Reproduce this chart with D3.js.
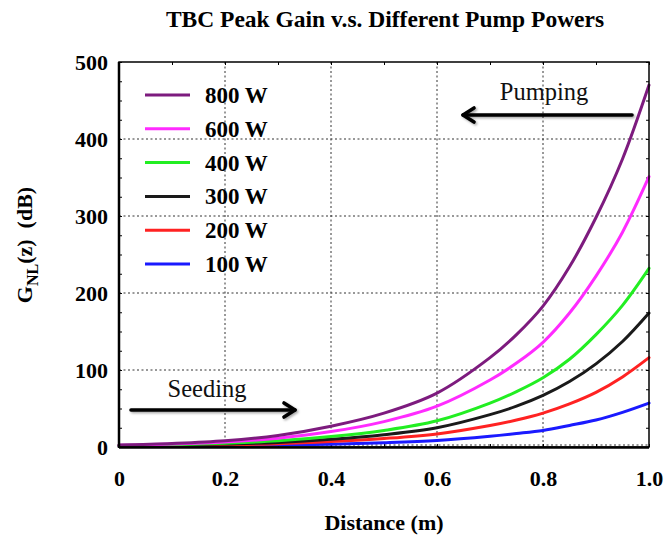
<!DOCTYPE html>
<html>
<head>
<meta charset="utf-8">
<script src="https://cdn.jsdelivr.net/npm/d3@7"></script>
<style>
  body { margin: 0; background: #fff; }
  svg text { font-family: "Liberation Serif", "Times New Roman", serif; }
</style>
</head>
<body>
<svg id="chart" width="664" height="538"></svg>
<script>
// Distance along the fibre (m)
const distance = [0, 0.1, 0.2, 0.3, 0.4, 0.5, 0.6, 0.7, 0.75, 0.8, 0.85, 0.9, 0.95, 1.0];

// Peak gain G_NL(z) in dB for each pump power
const gain800 = [2.5, 4.5, 8, 15, 27, 44, 70, 116, 146, 183, 234, 298, 374, 470];
const gain600 = [2.2, 3.8, 6.5, 11.5, 20, 33, 53, 87, 109, 136, 174, 222, 279, 351];
const gain400 = [2, 3, 5, 8, 13.5, 21.5, 34, 57, 72, 90, 114, 146, 184, 232];
const gain300 = [1.8, 2.5, 4, 6, 10, 16, 25, 42, 53, 67, 85, 108, 137, 174];
const gain200 = [1.6, 2.1, 3, 4.2, 7, 11, 17, 28, 35, 44, 56, 71, 91, 116];
const gain100 = [1.4, 1.6, 2, 2.5, 3.5, 5.5, 8.5, 14, 17.5, 21.5, 28, 35, 45, 57];

const seriesNames = ["800 W", "600 W", "400 W", "300 W", "200 W", "100 W"];
const seriesColors = ["#7d1b7e", "#ff2bff", "#22ee22", "#1a1a1a", "#ff2222", "#1a1aff"];
const seriesValues = [gain800, gain600, gain400, gain300, gain200, gain100];

const xTicks = [0, 0.2, 0.4, 0.6, 0.8, 1.0];
const xTickLabels = ["0", "0.2", "0.4", "0.6", "0.8", "1.0"];
const yTicks = [0, 100, 200, 300, 400, 500];

const svg = d3.select("#chart");
const plotLeft = 119, plotRight = 649, plotTop = 62, plotBottom = 447;

const x = d3.scaleLinear().domain([0, 1]).range([plotLeft, plotRight]);
const y = d3.scaleLinear().domain([0, 500]).range([plotBottom, plotTop]);

// Title
svg.append("text")
  .attr("x", 385).attr("y", 27)
  .attr("text-anchor", "middle")
  .attr("font-weight", "bold").attr("font-size", 23.5)
  .text("TBC Peak Gain v.s. Different Pump Powers");

// Dotted grid
const grid = svg.append("g").attr("stroke", "#333").attr("stroke-width", 1)
  .attr("stroke-dasharray", "2,2.5");
xTicks.filter(d => d > 0 && d < 1).forEach(d => {
  grid.append("line").attr("x1", x(d)).attr("x2", x(d)).attr("y1", plotTop).attr("y2", plotBottom);
});
yTicks.filter(d => d < 500).forEach(d => {
  const yy = y(d) - (d === 0 ? 2 : 0);
  grid.append("line").attr("x1", plotLeft).attr("x2", plotRight).attr("y1", yy).attr("y2", yy);
});

// Inward minor ticks on all four sides
const minorX = d3.range(0, 1.0001, 0.1);
const minorY = d3.range(0, 500.1, 25);
const axisStyle = g => {
  g.select(".domain").remove();
  g.selectAll(".tick line").attr("stroke", "#000").attr("stroke-width", 1);
};
svg.append("g").attr("transform", `translate(0,${plotBottom})`)
  .call(d3.axisBottom(x).tickValues(minorX).tickSize(-3).tickFormat(""))
  .call(axisStyle);
svg.append("g").attr("transform", `translate(0,${plotTop})`)
  .call(d3.axisTop(x).tickValues(minorX).tickSize(-3).tickFormat(""))
  .call(axisStyle);
svg.append("g").attr("transform", `translate(${plotLeft},0)`)
  .call(d3.axisLeft(y).tickValues(minorY).tickSize(-3).tickFormat(""))
  .call(axisStyle);
svg.append("g").attr("transform", `translate(${plotRight},0)`)
  .call(d3.axisRight(y).tickValues(minorY).tickSize(-3).tickFormat(""))
  .call(axisStyle);

// Tick labels
const xLab = svg.append("g")
  .attr("transform", `translate(0,${plotBottom})`)
  .call(d3.axisBottom(x).tickValues(xTicks).tickSize(0).tickPadding(23)
    .tickFormat((d, i) => xTickLabels[i]));
xLab.select(".domain").remove();
xLab.selectAll("text").attr("font-size", 22).attr("font-weight", "bold")
  .attr("fill", "#000").attr("font-family", "Liberation Serif, serif");

const yLab = svg.append("g")
  .attr("transform", `translate(${plotLeft},0)`)
  .call(d3.axisLeft(y).tickValues(yTicks).tickSize(0).tickPadding(11));
yLab.select(".domain").remove();
yLab.selectAll("text").attr("font-size", 22).attr("font-weight", "bold")
  .attr("fill", "#000").attr("font-family", "Liberation Serif, serif");

// Curves
const line = d3.line()
  .x((d, i) => x(distance[i]))
  .y(d => y(d))
  .curve(d3.curveCatmullRom.alpha(0.5));

const curves = svg.append("g");
seriesValues.slice().reverse().forEach((vals, k) => {
  const idx = seriesValues.length - 1 - k;
  curves.append("path")
    .attr("d", line(vals))
    .attr("fill", "none")
    .attr("stroke", seriesColors[idx])
    .attr("stroke-width", 3)
    .attr("stroke-linecap", "round");
});

// Frame
svg.append("rect")
  .attr("x", plotLeft).attr("y", plotTop)
  .attr("width", plotRight - plotLeft).attr("height", plotBottom - plotTop)
  .attr("fill", "none").attr("stroke", "#000").attr("stroke-width", 1.5);
svg.append("line").attr("x1", plotLeft).attr("x2", plotLeft).attr("y1", plotTop).attr("y2", plotBottom + 1)
  .attr("stroke", "#000").attr("stroke-width", 2.5);
svg.append("line").attr("x1", plotLeft).attr("x2", plotRight).attr("y1", plotBottom + 0.5).attr("y2", plotBottom + 0.5)
  .attr("stroke", "#000").attr("stroke-width", 2.5);

// Legend
const legend = svg.append("g");
seriesNames.forEach((name, i) => {
  const ly = 95 + i * 33.8;
  legend.append("line")
    .attr("x1", 145).attr("x2", 190).attr("y1", ly).attr("y2", ly)
    .attr("stroke", seriesColors[i]).attr("stroke-width", 3);
  legend.append("text")
    .attr("x", 205).attr("y", ly + 8)
    .attr("font-size", 23).attr("font-weight", "bold")
    .text(name);
});

// Direction annotations
const defs = svg.append("defs");
const shadow = defs.append("filter").attr("id", "shadow")
  .attr("x", "-10%").attr("y", "-50%").attr("width", "130%").attr("height", "300%");
shadow.append("feDropShadow").attr("dx", 1.5).attr("dy", 1.5).attr("stdDeviation", 1.2)
  .attr("flood-color", "#000").attr("flood-opacity", 0.35);

function arrow(x1, x2, yy) {
  const dir = Math.sign(x2 - x1);
  const g = svg.append("g").attr("filter", "url(#shadow)")
    .attr("stroke", "#000").attr("stroke-width", 3.6).attr("fill", "none")
    .attr("stroke-linecap", "round").attr("stroke-linejoin", "round");
  g.append("line").attr("x1", x1).attr("x2", x2).attr("y1", yy).attr("y2", yy);
  g.append("path").attr("d", `M${x2 - dir * 11},${yy - 7} L${x2},${yy} L${x2 - dir * 11},${yy + 7}`);
}

svg.append("text")
  .attr("x", 544).attr("y", 100).attr("text-anchor", "middle")
  .attr("font-family", "Open Sans, Liberation Sans, sans-serif")
  .attr("font-size", 24.5).attr("fill", "#111")
  .text("Pumping");
arrow(632, 463, 115);

svg.append("text")
  .attr("x", 207).attr("y", 397).attr("text-anchor", "middle")
  .attr("font-family", "Open Sans, Liberation Sans, sans-serif")
  .attr("font-size", 24.5).attr("fill", "#111")
  .text("Seeding");
arrow(131, 295, 410);

// Axis titles
svg.append("text")
  .attr("x", 384).attr("y", 530)
  .attr("text-anchor", "middle")
  .attr("font-size", 22).attr("font-weight", "bold")
  .text("Distance (m)");

const yt = svg.append("text")
  .attr("transform", "translate(32,245) rotate(-90)")
  .attr("text-anchor", "middle")
  .attr("font-size", 22).attr("font-weight", "bold")
  .attr("xml:space", "preserve")
  .style("white-space", "pre");
yt.append("tspan").text("G");
yt.append("tspan").attr("font-size", 16).attr("dy", 6).text("NL");
yt.append("tspan").attr("dy", -6).text("(z)  (dB)");
</script>
</body>
</html>
